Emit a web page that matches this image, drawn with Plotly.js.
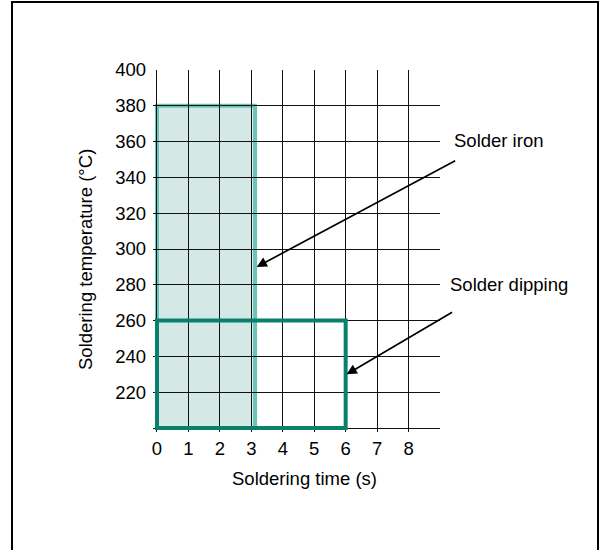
<!DOCTYPE html>
<html>
<head>
<meta charset="utf-8">
<script src="https://cdn.plot.ly/plotly-3.0.1.min.js"></script>
<style>
  html, body { margin: 0; padding: 0; background: #fff; }
  #wrap { position: relative; width: 602px; height: 550px; overflow: hidden; }
  #chart { width: 602px; height: 550px; }
  #frame { position: absolute; left: 11px; top: 1px; width: 584px; height: 570px;
           border: 2px solid #000; pointer-events: none; }
</style>
</head>
<body>
<div id="wrap">
  <div id="chart"></div>
  <div id="frame"></div>
</div>
<script>
// ---- data ----
const methods   = ['Solder iron', 'Solder dipping'];
const timeStart = [0, 0];        // s
const timeEnd   = [3.12, 6];     // s
const tempLow   = [200, 200];    // °C
const tempHigh  = [380, 260];    // °C

const xTickVals = [0, 1, 2, 3, 4, 5, 6, 7, 8, 9];
const xTickText = ['0', '1', '2', '3', '4', '5', '6', '7', '8', ''];
const yTickVals = [200, 220, 240, 260, 280, 300, 320, 340, 360, 380, 400];
const yTickText = ['', '220', '240', '260', '280', '300', '320', '340', '360', '380', '400'];

// ---- styling ----
const FONT = 'Arial, "Liberation Sans", sans-serif';
const FS = 18.5;
const fillColors = ['#d4e9e6', 'rgba(0,0,0,0)'];
const lineColors = ['#6cc3b9', '#08806b'];
const layers = ['below', 'above'];

const shapes = methods.map((m, i) => ({
  type: 'rect', xref: 'x', yref: 'y',
  x0: timeStart[i], x1: timeEnd[i], y0: tempLow[i], y1: tempHigh[i],
  fillcolor: fillColors[i],
  line: { color: lineColors[i], width: 4 },
  layer: layers[i]
}));

const annotations = [
  { xref: 'paper', yref: 'paper', x: 0.5286, y: -0.1298, xanchor: 'center', yanchor: 'middle',
    text: 'Soldering time (s)', showarrow: false, font: { family: FONT, size: FS, color: '#000' } },
  { xref: 'paper', yref: 'paper', x: -0.237, y: 0.4779, xanchor: 'center', yanchor: 'middle',
    textangle: -90, text: 'Soldering temperature (°C)', showarrow: false,
    font: { family: FONT, size: FS, color: '#000' } },
  { xref: 'paper', yref: 'paper', x: 1.0418, y: 0.8047, xanchor: 'left', yanchor: 'middle',
    text: methods[0], showarrow: false, font: { family: FONT, size: FS, color: '#000' } },
  { xref: 'paper', yref: 'paper', x: 1.0268, y: 0.4061, xanchor: 'left', yanchor: 'middle',
    text: methods[1], showarrow: false, font: { family: FONT, size: FS, color: '#000' } },
  { xref: 'x', yref: 'y', x: 3.17, y: 290, ax: 200, ay: -107, text: '',
    showarrow: true, arrowhead: 2, arrowsize: 1.2, arrowwidth: 1.7, arrowcolor: '#000', standoff: 0 },
  { xref: 'x', yref: 'y', x: 6.03, y: 230, ax: 107, ay: -63, text: '',
    showarrow: true, arrowhead: 2, arrowsize: 1.2, arrowwidth: 1.7, arrowcolor: '#000', standoff: 0 }
];

const layout = {
  width: 602, height: 550,
  margin: { l: 153, r: 162, t: 70, b: 118, pad: 0 },
  paper_bgcolor: '#fff', plot_bgcolor: '#fff',
  showlegend: false,
  font: { family: FONT, size: FS, color: '#000' },
  xaxis: {
    range: [-0.127, 9], tickmode: 'array', tickvals: xTickVals, ticktext: xTickText,
    showgrid: true, gridcolor: '#111', gridwidth: 1, zeroline: false, showline: false,
    ticks: '', ticklabelstandoff: 3, tickfont: { family: FONT, size: FS, color: '#000' },
    fixedrange: true
  },
  yaxis: {
    range: [197.77, 400], tickmode: 'array', tickvals: yTickVals, ticktext: yTickText,
    showgrid: true, gridcolor: '#111', gridwidth: 1, zeroline: false, showline: false,
    ticks: '', ticklabelstandoff: 6, tickfont: { family: FONT, size: FS, color: '#000' },
    fixedrange: true
  },
  shapes: shapes,
  annotations: annotations
};

Plotly.newPlot('chart', [], layout, { displayModeBar: false, staticPlot: true });
</script>
</body>
</html>
